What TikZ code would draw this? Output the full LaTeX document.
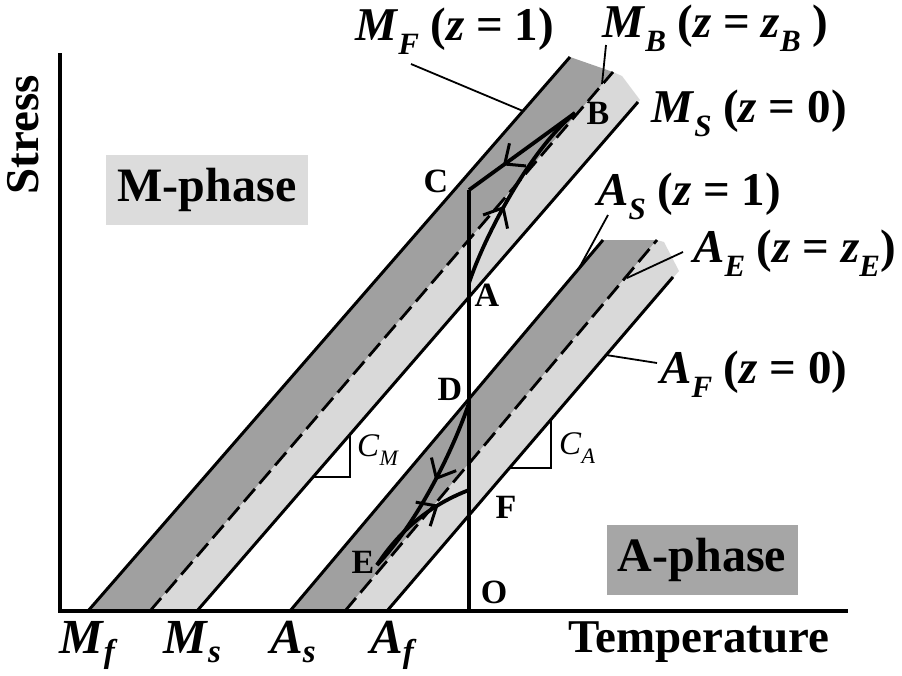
\documentclass[tikz,border=0pt]{standalone}
\usepackage{fontspec}
\setmainfont{Liberation Serif}
\usetikzlibrary{arrows.meta,decorations.markings}
\definecolor{dgray}{RGB}{160,160,160}
\definecolor{lgray}{RGB}{217,217,217}
\definecolor{boxdark}{RGB}{166,166,166}
\definecolor{boxlight}{RGB}{220,220,220}
\newcommand{\bi}[1]{\textbf{\textit{#1}}}
\newcommand{\lsub}[2][31]{\raisebox{-0.3em}{\fontsize{#1}{#1}\selectfont\bfseries\itshape #2}}
\newcommand{\axsub}[1]{\raisebox{-0.2em}{\fontsize{33}{33}\selectfont\bfseries\itshape #1}}
\begin{document}
\begin{tikzpicture}[x=1pt,y=-1pt,
  bandline/.style={line width=3pt},
  dashline/.style={line width=2.8pt, dash pattern=on 17pt off 7pt},
  loopline/.style={line width=3.8pt, line join=round},
  leader/.style={line width=1.8pt},
  ptlbl/.style={font=\fontsize{34}{34}\selectfont\bfseries, inner sep=0pt},
  biglbl/.style={font=\fontsize{47}{47}\selectfont\bfseries, inner sep=0pt, anchor=base west},
  axlbl/.style={font=\fontsize{49}{49}\selectfont\bfseries, inner sep=0pt, anchor=base},
  slopelbl/.style={font=\fontsize{33}{33}\selectfont, inner sep=0pt, anchor=base west},
  midarrow/.style={postaction={decorate}, decoration={markings, mark=at position #1 with {\arrow{Straight Barb[length=16pt,width=28pt,line width=3pt]}}}},
]
\useasboundingbox (0,0) rectangle (902,675);
% band coordinates
\coordinate (MfB) at (88,611);  \coordinate (MfT) at (570,57);
\coordinate (MbB) at (150,611); \coordinate (MbT) at (613,72);
\coordinate (MsB) at (197,611); \coordinate (MsT) at (638,102);
\coordinate (AsB) at (290,611); \coordinate (AsT) at (603,240);
\coordinate (AeB) at (345,611); \coordinate (AeT) at (657,240);
\coordinate (AfB) at (387,611); \coordinate (AfT) at (673,277);
% fills
\fill[dgray] (MfB) -- (MfT) -- (MbT) -- (MbB) -- cycle;
\fill[lgray] (MbB) -- (MbT) -- (622,76) -- (640,100) -- (MsB) -- cycle;
\fill[dgray] (AsB) -- (AsT) -- (AeT) -- (AeB) -- cycle;
\fill[lgray] (AeB) -- (AeT) -- (664,242) -- (679,271) -- (AfB) -- cycle;
% band lines
\draw[bandline] (MfB) -- (MfT);
\draw[bandline] (MsB) -- (MsT);
\draw[dashline] (MbB) -- (MbT);
\draw[bandline] (AsB) -- (AsT);
\draw[bandline] (AfB) -- (AfT);
\draw[dashline] (AeB) -- (AeT);
% slope triangles
\draw[line width=2.6pt] (313,477) -- (350,477) -- (350,434);
\draw[line width=2.6pt] (509,468) -- (551,468) -- (551,419);
% loop points
\coordinate (A) at (469,283);
\coordinate (B) at (575,113);
\coordinate (C) at (469,190);
\coordinate (D) at (469,403);
\coordinate (E) at (377,565);
\coordinate (F) at (469,490);
\coordinate (O) at (469,611);
\draw[loopline] (O) -- (C);
\draw[loopline, midarrow=0.68] (B) -- (C);
\draw[loopline, midarrow=0.42] (A) .. controls (485,235) and (530,150) .. (B);
\draw[loopline, midarrow=0.45] (D) .. controls (455,445) and (420,520) .. (E);
\draw[loopline, midarrow=0.72] (E) .. controls (400,530) and (430,505) .. (F);
% axes
\draw[line width=3.6pt] (60,53) -- (60,611) -- (848,611);
% leaders
\draw[leader] (411,64) -- (523,111);
\draw[leader] (606,45) -- (602,84);
\draw[leader] (608,215) -- (578,270);
\draw[leader] (683,252) -- (627,278);
\draw[leader] (657,363) -- (606,355);
% point labels
\node[ptlbl] (lB) at (598,113) {B};
\node[ptlbl] (lC) at (436,181) {C};
\node[ptlbl] (lA) at (487,295) {A};
\node[ptlbl] (lD) at (450,389) {D};
\node[ptlbl] (lE) at (363,562) {E};
\node[ptlbl] (lF) at (506,507) {F};
\node[ptlbl] (lO) at (494,592) {O};
% curve labels
\node[biglbl] (lMF) at (355,40) {\bi{M}\lsub{F}~(\bi{z} = 1)};
\node[biglbl] (lMB) at (602,37) {\bi{M}\lsub{B}~(\bi{z} = \bi{z}\lsub{B}~)};
\node[biglbl] (lMS) at (651,122) {\bi{M}\lsub{S}~(\bi{z} = 0)};
\node[biglbl] (lAS) at (597,205) {\bi{A}\lsub{S}~(\bi{z} = 1)};
\node[biglbl] (lAE) at (693,262) {\bi{A}\lsub{E}~(\bi{z} = \bi{z}\lsub{E})};
\node[biglbl] (lAF) at (660,383) {\bi{A}\lsub{F}~(\bi{z} = 0)};
% slope labels
\node[slopelbl] (lCM) at (357,456) {\textit{C}\raisebox{-0.3em}{\fontsize{22}{22}\selectfont\textit{M}}};
\node[slopelbl] (lCA) at (559,454) {\textit{C}\raisebox{-0.3em}{\fontsize{22}{22}\selectfont\textit{A}}};
% axis labels
\node[axlbl] (lMf) at (87,653) {\bi{M}\axsub{f}};
\node[axlbl] (lMs) at (192,653) {\bi{M}\axsub{s}};
\node[axlbl] (lAs) at (293,653) {\bi{A}\axsub{s}};
\node[axlbl] (lAf) at (392,653) {\bi{A}\axsub{f}};
\node[font=\fontsize{47}{47}\selectfont\bfseries, inner sep=0pt, anchor=base west] (lT) at (568,652) {Temperature};
\node[font=\fontsize{47}{47}\selectfont\bfseries, inner sep=0pt, rotate=90, anchor=base] (lS) at (38,135) {Stress};
% phase boxes
\node[fill=boxlight, minimum width=202pt, minimum height=70pt, inner sep=0pt, font=\fontsize{48}{48}\selectfont\bfseries] (mph) at (207,190) {M-phase};
\node[fill=boxdark, minimum width=191pt, minimum height=70pt, inner sep=0pt, font=\fontsize{48}{48}\selectfont\bfseries] (aph) at (702,560) {A-phase};
\end{tikzpicture}
\end{document}
